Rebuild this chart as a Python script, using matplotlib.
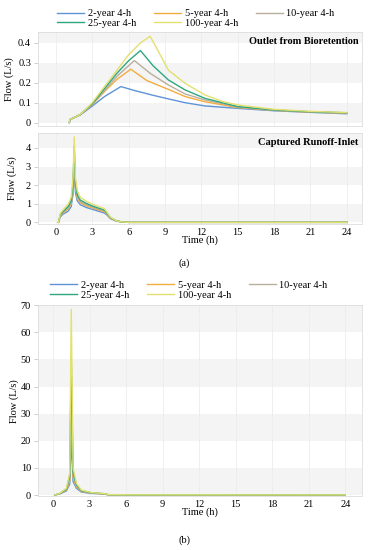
import matplotlib
matplotlib.use('Agg')
import matplotlib.pyplot as plt
import numpy as np

plt.rcParams['font.family'] = ['Liberation Serif', 'DejaVu Serif']

## Data
labels = ['2-year 4-h', '5-year 4-h', '10-year 4-h', '25-year 4-h', '100-year 4-h']
colors = ['#5f93d8', '#f3ac3e', '#b9ae9e', '#2ea77f', '#e2e06e']

# outlet from bioretention (each storm has its own peak time)
out_t = [
    [1.1, 1.15, 2.0, 3.0, 4.0, 5.35, 6.5, 7.9, 9.3, 10.6, 12.3, 15.0, 18.0, 21.0, 24.0],
    [1.1, 1.15, 2.0, 3.0, 4.0, 5.0, 6.17, 7.5, 9.28, 10.66, 12.3, 15.0, 18.0, 21.0, 24.0],
    [1.1, 1.15, 2.0, 3.0, 4.0, 5.0, 6.0, 6.47, 7.8, 9.28, 10.66, 12.3, 15.0, 18.0, 21.0, 24.0],
    [1.1, 1.15, 2.0, 3.0, 4.0, 5.0, 6.0, 6.97, 8.0, 9.28, 10.66, 12.3, 15.0, 18.0, 21.0, 24.0],
    [1.1, 1.15, 2.0, 2.4, 3.0, 4.0, 5.0, 6.0, 7.0, 7.77, 9.28, 10.66, 12.3, 13.8, 15.0, 16.6, 18.0, 21.0, 24.0],
]
out_q = [
    [0.0, 0.015, 0.038, 0.083, 0.13, 0.18, 0.16, 0.138, 0.118, 0.10, 0.083, 0.071, 0.059, 0.051, 0.044],
    [0.0, 0.015, 0.04, 0.09, 0.155, 0.215, 0.267, 0.21, 0.166, 0.13, 0.104, 0.075, 0.061, 0.052, 0.047],
    [0.0, 0.015, 0.04, 0.093, 0.16, 0.23, 0.285, 0.31, 0.245, 0.188, 0.143, 0.113, 0.078, 0.062, 0.053, 0.048],
    [0.0, 0.015, 0.04, 0.095, 0.17, 0.245, 0.31, 0.36, 0.285, 0.213, 0.163, 0.121, 0.08, 0.063, 0.054, 0.049],
    [0.0, 0.015, 0.04, 0.063, 0.10, 0.18, 0.26, 0.34, 0.40, 0.432, 0.262, 0.196, 0.138, 0.104, 0.088, 0.076, 0.066, 0.056, 0.05],
]

# captured runoff at the inlet
inlet_t = [0.2, 0.35, 0.6, 1.0, 1.25, 1.4, 1.5, 1.6, 1.75, 2.0, 2.5, 3.0, 3.5, 4.0, 4.2, 4.5, 5.0, 5.5, 6.0, 24.0]
inlet_q = [
    [0, 0.30, 0.45, 0.60, 0.85, 1.5, 2.9, 1.6, 1.15, 0.95, 0.80, 0.70, 0.60, 0.50, 0.40, 0.20, 0.06, 0.02, 0, 0],
    [0, 0.35, 0.52, 0.72, 0.98, 1.8, 3.4, 1.85, 1.30, 1.05, 0.88, 0.78, 0.67, 0.57, 0.45, 0.22, 0.07, 0.02, 0, 0],
    [0, 0.38, 0.56, 0.78, 1.05, 1.95, 3.75, 2.0, 1.40, 1.12, 0.95, 0.83, 0.72, 0.62, 0.48, 0.24, 0.07, 0.02, 0, 0],
    [0, 0.42, 0.60, 0.85, 1.15, 2.1, 4.1, 2.15, 1.50, 1.20, 1.02, 0.88, 0.77, 0.66, 0.50, 0.25, 0.08, 0.02, 0, 0],
    [0, 0.48, 0.68, 0.98, 1.35, 2.4, 4.6, 2.4, 1.70, 1.35, 1.13, 0.98, 0.85, 0.73, 0.55, 0.27, 0.08, 0.02, 0, 0],
]

# panel (b)
b_t = [0.15, 0.55, 1.1, 1.37, 1.5, 1.65, 1.92, 2.33, 3.15, 4.0, 4.25, 4.5, 6.0, 24.0]
b_q = [
    [0, 0.40, 1.5, 4, 20.3, 5.0, 2.5, 1.10, 0.60, 0.42, 0.33, 0.10, 0.06, 0.04],
    [0, 0.45, 1.8, 5, 33.0, 6.5, 3.0, 1.30, 0.70, 0.47, 0.38, 0.11, 0.07, 0.04],
    [0, 0.50, 2.0, 6, 42.0, 7.5, 3.4, 1.45, 0.75, 0.50, 0.40, 0.12, 0.07, 0.05],
    [0, 0.55, 2.2, 7, 50.5, 8.5, 3.8, 1.60, 0.80, 0.55, 0.45, 0.13, 0.08, 0.05],
    [0, 0.60, 2.5, 8, 68.5, 10.0, 4.3, 1.80, 0.90, 0.60, 0.50, 0.15, 0.08, 0.05],
]

xticks = np.arange(0, 25, 3)
fs = 7.5


def style(ax, step, nbands, ylim, xlim):
    # alternating grey bands + faint vertical grid
    for k in range(0, nbands, 2):
        ax.axhspan(k * step, (k + 1) * step, color='#f4f4f4', zorder=0, lw=0)
    for x in xticks:
        ax.axvline(x, color='#ececec', lw=0.6, zorder=0.5)
    ax.set_xlim(*xlim)
    ax.set_ylim(*ylim)
    ax.set_xticks(xticks)
    for s in ax.spines.values():
        s.set_color('#dddddd')
        s.set_linewidth(0.6)
    ax.tick_params(axis='y', length=3, width=0.5, color='#bbbbbb', labelsize=fs, pad=2)
    ax.tick_params(axis='x', length=0, labelsize=fs, pad=3)


fig = plt.figure(figsize=(3.69, 5.5), dpi=100)

## (a) top: outlet
ax1 = fig.add_axes([0.103, 0.771, 0.878, 0.1715])
style(ax1, 0.1, 5, (-0.017, 0.455), (-1.49, 25.26))
for t, q, c, l in zip(out_t, out_q, colors, labels):
    ax1.plot(t, q, color=c, lw=1.0, label=l)
ax1.set_yticks([0, 0.1, 0.2, 0.3, 0.4])
ax1.set_yticklabels(['0', '0.1', '0.2', '0.3', '0.4'])
ax1.set_xticklabels([])
ax1.set_ylabel('Flow (L/s)', fontsize=fs, labelpad=3)
ax1.text(0.99, 0.9, 'Outlet from Bioretention', transform=ax1.transAxes,
         ha='right', va='center', fontsize=fs, fontweight='bold')

## (a) bottom: inlet
ax2 = fig.add_axes([0.103, 0.593, 0.878, 0.165])
style(ax2, 1, 5, (-0.08, 4.8), (-1.49, 25.26))
for q, c in zip(inlet_q, colors):
    ax2.plot(inlet_t, q, color=c, lw=1.0)
ax2.set_yticks([0, 1, 2, 3, 4])
ax2.set_ylabel('Flow (L/s)', fontsize=fs, labelpad=6)
ax2.set_xlabel('Time (h)', fontsize=fs, labelpad=-1)
ax2.text(0.99, 0.9, 'Captured Runoff-Inlet', transform=ax2.transAxes,
         ha='right', va='center', fontsize=fs, fontweight='bold')

## (b)
ax3 = fig.add_axes([0.103, 0.098, 0.878, 0.347])
style(ax3, 10, 7, (-0.4, 70), (-1.23, 25.37))
lines_b = []
for q, c, l in zip(b_q, colors, labels):
    ln, = ax3.plot(b_t, q, color=c, lw=1.0, label=l)
    lines_b.append(ln)
ax3.set_yticks(np.arange(0, 71, 10))
ax3.set_ylabel('Flow (L/s)', fontsize=fs, labelpad=1)
ax3.set_xlabel('Time (h)', fontsize=fs, labelpad=-1)

# legends, row-wise order
order = [0, 3, 1, 4, 2]
legend_kw = dict(ncol=3, loc='center left', frameon=False, fontsize=fs,
                 handlelength=2.6, handletextpad=0.35, columnspacing=1.7,
                 labelspacing=0.05, borderpad=0, borderaxespad=0)
h1, _ = ax1.get_legend_handles_labels()
fig.legend([h1[i] for i in order], [labels[i] for i in order],
           bbox_to_anchor=(57 / 369, 1 - 18.5 / 550), **legend_kw)
fig.legend([lines_b[i] for i in order], [labels[i] for i in order],
           bbox_to_anchor=(50 / 369, 1 - 290 / 550), **legend_kw)

fig.text(0.5, 1 - 263 / 550, '(a)', ha='center', va='center', fontsize=fs)
fig.text(0.5, 1 - 540 / 550, '(b)', ha='center', va='center', fontsize=fs)

plt.savefig('out.png', dpi=100)
